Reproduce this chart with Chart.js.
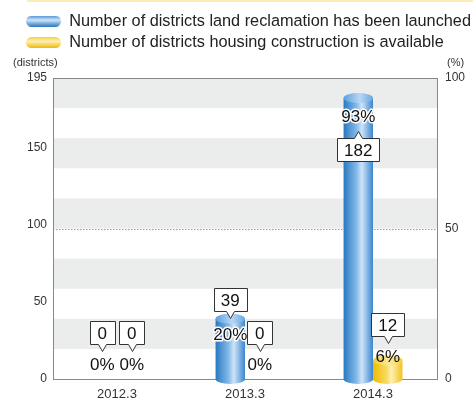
<!DOCTYPE html>
<html lang="en">
<head>
  <meta charset="UTF-8">
  <title>Districts</title>
  <script src="https://cdn.jsdelivr.net/npm/chart.js"></script>
  <style>
    body {
      margin: 0;
      background: #fff;
      font-family: 'Liberation Sans', Arial, sans-serif;
    }
    #wrap {
      position: relative;
      width: 473px;
      height: 405px;
    }
    /* thin yellow rule at the very top */
    #topline {
      position: absolute;
      left: 27px;
      right: 0;
      top: 0;
      height: 2px;
      background: #fbedb4;
    }
    .unit {
      position: absolute;
      top: 56px;
      font-size: 11px;
      color: #333;
    }
    canvas { display: block; }
  </style>
</head>
<body>
  <div id="wrap">
    <div id="topline"></div>
    <span class="unit" style="left:13px">(districts)</span>
    <span class="unit" style="left:447px">(%)</span>
    <canvas id="chart" width="473" height="405"></canvas>
  </div>

  <script>
    // data
    const years = ['2012.3', '2013.3', '2014.3'];
    const launched = [0, 39, 182];
    const launchedPct = [0, 20, 93];
    const housing = [0, 0, 12];
    const housingPct = [0, 0, 6];
    const totalDistricts = 195;
    const leftTicks = [0, 50, 100, 150, 195];
    const rightTicks = [0, 50, 100];
    const seriesNames = [
      'Number of districts land reclamation has been launched',
      'Number of districts housing construction is available'
    ];
    const pctSeries = [launchedPct, housingPct];

    // cylinder colours (edge -> highlight -> edge)
    const bodyStops = [
      [[0, '#2a78c2'], [0.45, '#86bbe8'], [0.62, '#cfe4f7'], [1, '#3a87cf']],
      [[0, '#f2bb00'], [0.45, '#f8d95c'], [0.62, '#fdf0b4'], [1, '#f4c21a']]
    ];
    const capStops = [
      [[0, '#5b9fdd'], [0.55, '#b8d7f3'], [1, '#6aa8e0']],
      [[0, '#f6cc2e'], [0.55, '#fbe9a0'], [1, '#f7d040']]
    ];
    const swatchStops = [
      [[0, '#4d93d6'], [0.4, '#d2e6f8'], [1, '#2a78c0']],
      [[0, '#f7cf3a'], [0.4, '#fdf1bc'], [1, '#f0b800']]
    ];

    Chart.defaults.font.family = "'Liberation Sans', Arial, sans-serif";
    Chart.defaults.color = '#333';

    function makeSwatch(stops) {
      const c = document.createElement('canvas');
      c.width = 35; c.height = 11;
      const g = c.getContext('2d');
      const grad = g.createLinearGradient(0, 0, 0, 11);
      stops.forEach(([o, col]) => grad.addColorStop(o, col));
      g.fillStyle = grad;
      g.beginPath();
      g.roundRect(0, 0, 35, 11, 5.5);
      g.fill();
      return c;
    }
    const swatches = swatchStops.map(makeSwatch);

    function hGradient(ctx, l, r, stops) {
      const g = ctx.createLinearGradient(l, 0, r, 0);
      stops.forEach(([o, col]) => g.addColorStop(o, col));
      return g;
    }

    // background bands, dotted 50% line, top frame
    const backdrop = {
      id: 'backdrop',
      beforeDraw(chart) {
        const {ctx, chartArea: a, scales: {y1}} = chart;
        ctx.save();
        ctx.fillStyle = '#ebecec';
        for (let p = 100; p > 0; p -= 20) {
          const t = y1.getPixelForValue(p), b = y1.getPixelForValue(p - 10);
          ctx.fillRect(a.left, t, a.right - a.left, b - t);
        }
        const m = Math.round(y1.getPixelForValue(50)) + 0.5;
        ctx.strokeStyle = '#9a9a9a';
        ctx.lineWidth = 1;
        ctx.setLineDash([1.5, 1.5]);
        ctx.beginPath(); ctx.moveTo(a.left, m); ctx.lineTo(a.right, m); ctx.stroke();
        ctx.setLineDash([]);
        ctx.strokeStyle = '#888';
        const t = Math.round(a.top) + 0.5;
        ctx.beginPath(); ctx.moveTo(a.left, t); ctx.lineTo(a.right, t); ctx.stroke();
        ctx.restore();
      }
    };

    // give each bar its own horizontal gradient, then add the round ends
    const cylinders = {
      id: 'cylinders',
      beforeDatasetDraw(chart, args) {
        const ctx = chart.ctx;
        args.meta.data.forEach(el => {
          const l = el.x - el.width / 2, r = el.x + el.width / 2;
          el.options = Object.assign({}, el.options, {
            backgroundColor: hGradient(ctx, l, r, bodyStops[args.index])
          });
        });
      },
      afterDatasetDraw(chart, args) {
        const ctx = chart.ctx;
        const vals = chart.data.datasets[args.index].data;
        args.meta.data.forEach((el, i) => {
          if (!vals[i]) return;
          const rx = el.width / 2, ry = 5;
          const l = el.x - rx, r = el.x + rx;
          ctx.save();
          ctx.fillStyle = hGradient(ctx, l, r, bodyStops[args.index]);
          ctx.beginPath();
          ctx.ellipse(el.x, el.base, rx, ry, 0, 0, Math.PI);
          ctx.fill();
          ctx.fillStyle = hGradient(ctx, l, r, capStops[args.index]);
          ctx.beginPath();
          ctx.ellipse(el.x, el.y, rx, ry, 0, 0, Math.PI * 2);
          ctx.fill();
          ctx.restore();
        });
      }
    };

    function callout(ctx, cx, top, text, pointUp) {
      ctx.font = "17px 'Liberation Sans', Arial, sans-serif";
      const w = Math.max(25, ctx.measureText(text).width + 14), h = 23;
      const l = Math.round(cx - w / 2) + 0.5, r = l + Math.round(w);
      const t = Math.round(top) + 0.5, b = t + h;
      const px = Math.round(cx) + 0.5;
      ctx.beginPath();
      ctx.moveTo(l, t);
      if (pointUp) { ctx.lineTo(px - 4, t); ctx.lineTo(px, t - 7); ctx.lineTo(px + 4, t); }
      ctx.lineTo(r, t);
      ctx.lineTo(r, b);
      if (!pointUp) { ctx.lineTo(px + 4, b); ctx.lineTo(px, b + 7); ctx.lineTo(px - 4, b); }
      ctx.lineTo(l, b);
      ctx.closePath();
      ctx.fillStyle = '#fff';
      ctx.fill();
      ctx.strokeStyle = '#333';
      ctx.lineWidth = 1;
      ctx.stroke();
      ctx.fillStyle = '#111';
      ctx.textAlign = 'center';
      ctx.textBaseline = 'middle';
      ctx.fillText(text, cx, t + h / 2 + 1);
    }

    function pctText(ctx, x, y, text, halo) {
      ctx.font = "17px 'Liberation Sans', Arial, sans-serif";
      ctx.textAlign = 'center';
      ctx.textBaseline = 'middle';
      if (halo) {
        ctx.strokeStyle = '#fff';
        ctx.lineWidth = 3;
        ctx.lineJoin = 'round';
        ctx.strokeText(text, x, y);
      }
      ctx.fillStyle = '#111';
      ctx.fillText(text, x, y);
    }

    // value callouts and percentages
    const labels = {
      id: 'labels',
      afterDatasetsDraw(chart) {
        const {ctx, chartArea: a} = chart;
        const areaH = a.bottom - a.top;
        ctx.save();
        chart.data.datasets.forEach((ds, di) => {
          chart.getDatasetMeta(di).data.forEach((el, i) => {
            const top = el.y, base = el.base, h = base - top;
            const v = String(ds.data[i]), p = pctSeries[di][i] + '%';
            if (h > areaH * 0.6) {
              pctText(ctx, el.x, top + 19, p, true);
              callout(ctx, el.x, top + 40, v, true);
            } else if (h > 40) {
              pctText(ctx, el.x, top + 17, p, true);
              callout(ctx, el.x, top - 31, v, false);
            } else {
              const py = Math.min(base - 14, top - 3);
              pctText(ctx, el.x, py, p, false);
              callout(ctx, el.x, py - 44, v, false);
            }
          });
        });
        ctx.restore();
      }
    };

    // fixed legend height so the plot starts where it should
    const legendHeight = {
      id: 'legendHeight',
      beforeLayout(chart) {
        const lg = chart.legend;
        if (lg && !lg._fixed) {
          const fit = lg.fit;
          lg.fit = function () { fit.call(this); this.height = 70; };
          lg._fixed = true;
        }
      }
    };

    new Chart(document.getElementById('chart'), {
      type: 'bar',
      data: {
        labels: years,
        datasets: [
          { label: seriesNames[0], data: launched, backgroundColor: '#4d94d6', yAxisID: 'y' },
          { label: seriesNames[1], data: housing, backgroundColor: '#f5c518', yAxisID: 'y' }
        ]
      },
      options: {
        responsive: false,
        animation: false,
        categoryPercentage: 0.46,
        barPercentage: 1,
        layout: { padding: { left: 21, top: 8, right: 0, bottom: 0 } },
        plugins: {
          tooltip: { enabled: false },
          legend: {
            position: 'top',
            align: 'start',
            labels: {
              usePointStyle: true,
              pointStyleWidth: 35,
              padding: 5,
              color: '#222',
              font: { size: 16.3 },
              generateLabels(chart) {
                const base = Chart.defaults.plugins.legend.labels.generateLabels(chart);
                return base.map((it, i) => Object.assign(it, { pointStyle: swatches[i] }));
              }
            }
          }
        },
        scales: {
          x: {
            grid: { display: false, drawTicks: false },
            border: { color: '#888' },
            ticks: { font: { size: 13 }, color: '#333', padding: 8 },
            afterFit: s => { s.height = 26; }
          },
          y: {
            position: 'left',
            min: 0,
            max: totalDistricts,
            grid: { display: false, drawTicks: false },
            border: { color: '#888' },
            afterBuildTicks: s => { s.ticks = leftTicks.map(v => ({ value: v })); },
            ticks: { font: { size: 12 }, color: '#333', padding: 6 },
            afterFit: s => { s.width = 32; }
          },
          y1: {
            position: 'right',
            min: 0,
            max: 100,
            grid: { display: false, drawTicks: false },
            border: { color: '#888' },
            afterBuildTicks: s => { s.ticks = rightTicks.map(v => ({ value: v })); },
            ticks: { font: { size: 12 }, color: '#333', padding: 8 },
            afterFit: s => { s.width = 36; }
          }
        }
      },
      plugins: [backdrop, cylinders, labels, legendHeight]
    });
  </script>
</body>
</html>
